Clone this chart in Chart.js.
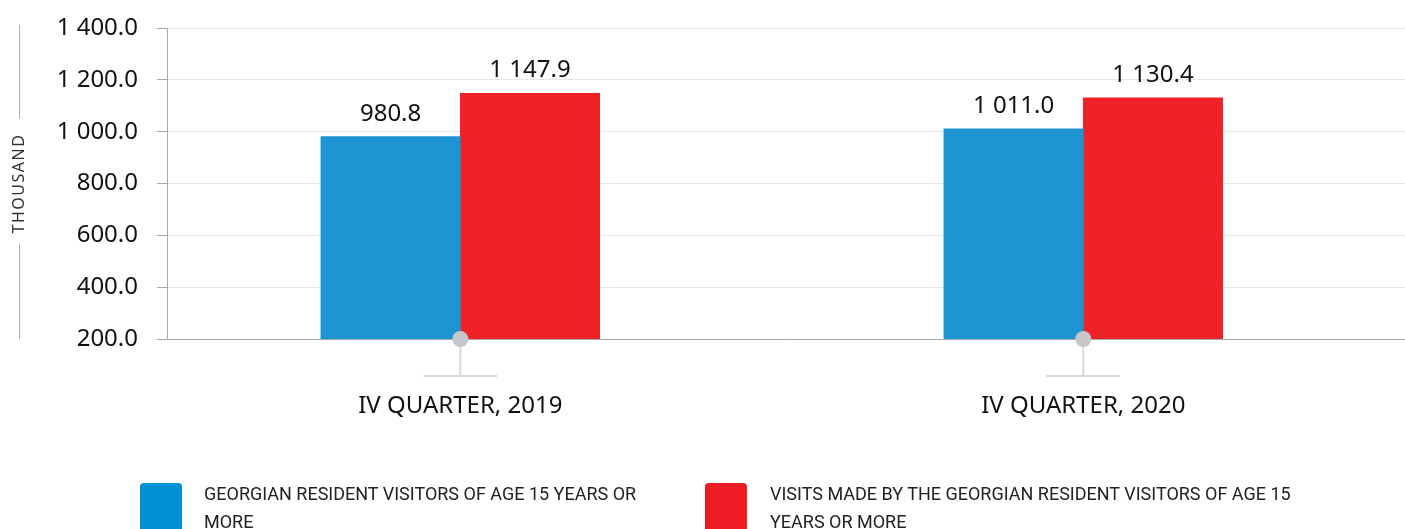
<!DOCTYPE html>
<html>
<head>
<meta charset="utf-8">
<script src="https://cdn.jsdelivr.net/npm/chart.js@4/dist/chart.umd.min.js"></script>
<style>
    body { margin: 0; background: #fff; }
    #wrap { position: relative; width: 1405px; height: 529px; overflow: hidden; }
    .legend-item { position: absolute; top: 483px; }
    .legend-box { position: absolute; top: 0; width: 42px; height: 60px; border-radius: 4px; }
    .legend-text { position: absolute; top: -3px; font-family: "Roboto", sans-serif; font-size: 18px; line-height: 28px; color: #222; white-space: nowrap; }
</style>
</head>
<body>
<div id="wrap">
    <canvas id="visitorsChart" width="1405" height="529"></canvas>
    <div class="legend-item" style="left:140px;">
        <div class="legend-box" style="left:0; background:#0090d4;"></div>
        <div class="legend-text" style="left:64px;">GEORGIAN RESIDENT VISITORS OF AGE 15 YEARS OR<br>MORE</div>
    </div>
    <div class="legend-item" style="left:705px;">
        <div class="legend-box" style="left:0; background:#ee1c25;"></div>
        <div class="legend-text" style="left:65px;">VISITS MADE BY THE GEORGIAN RESIDENT VISITORS OF AGE 15<br>YEARS OR MORE</div>
    </div>
</div>
<script>
// Chart data
const categories = ['IV QUARTER, 2019', 'IV QUARTER, 2020'];
const residentVisitors = [980.8, 1011.0];
const residentVisits = [1147.9, 1130.4];
const yTicks = [200, 400, 600, 800, 1000, 1200, 1400];

const blue = '#1e94d2';
const red = '#ee2227';

// Format number with space as thousands separator, one decimal
function formatNumber(num) {
    const parts = num.toFixed(1).split('.');
    return parts[0].replace(/\B(?=(\d{3})+(?!\d))/g, ' ') + '.' + parts[1];
}

// Value labels above bars
const valueLabels = {
    id: 'valueLabels',
    afterDatasetsDraw(chart) {
        const ctx = chart.ctx;
        ctx.save();
        ctx.font = '24px "Noto Sans"';
        ctx.fillStyle = '#111';
        ctx.textAlign = 'center';
        ctx.textBaseline = 'alphabetic';
        chart.data.datasets.forEach((ds, di) => {
            chart.getDatasetMeta(di).data.forEach((bar, i) => {
                ctx.fillText(formatNumber(ds.data[i].y), bar.x, bar.y - 16);
            });
        });
        ctx.restore();
    }
};

// Category markers and the vertical axis title
const decorations = {
    id: 'decorations',
    afterDraw(chart) {
        const ctx = chart.ctx;
        const x = chart.scales.x;
        const bottom = chart.chartArea.bottom;
        ctx.save();
        categories.forEach((c, i) => {
            const px = x.getPixelForValue(i);
            ctx.strokeStyle = '#d9d9d9';
            ctx.lineWidth = 2;
            ctx.beginPath();
            ctx.moveTo(px, bottom);
            ctx.lineTo(px, bottom + 37);
            ctx.moveTo(px - 37, bottom + 37);
            ctx.lineTo(px + 37, bottom + 37);
            ctx.stroke();
            ctx.fillStyle = '#c6c6cb';
            ctx.beginPath();
            ctx.arc(px, bottom, 8, 0, Math.PI * 2);
            ctx.fill();
        });

        // axis title
        const cy = (chart.chartArea.top + bottom) / 2;
        ctx.strokeStyle = '#b0b0b0';
        ctx.lineWidth = 1;
        ctx.beginPath();
        ctx.moveTo(19.5, 25);
        ctx.lineTo(19.5, cy - 65);
        ctx.moveTo(19.5, cy + 60);
        ctx.lineTo(19.5, bottom);
        ctx.stroke();
        ctx.translate(19, cy);
        ctx.rotate(-Math.PI / 2);
        ctx.font = '16px "Noto Sans"';
        ctx.letterSpacing = '1.5px';
        ctx.fillStyle = '#333';
        ctx.textAlign = 'center';
        ctx.textBaseline = 'middle';
        ctx.fillText('THOUSAND', 0, 0);
        ctx.restore();
    }
};

const ctx = document.getElementById('visitorsChart');

new Chart(ctx, {
    type: 'bar',
    data: {
        datasets: [{
            label: 'Georgian resident visitors of age 15 years or more',
            data: residentVisitors.map((v, i) => ({ x: i, y: v })),
            backgroundColor: blue
        }, {
            label: 'Visits made by the Georgian resident visitors of age 15 years or more',
            data: residentVisits.map((v, i) => ({ x: i, y: v })),
            backgroundColor: red
        }]
    },
    options: {
        responsive: false,
        animation: false,
        barThickness: 139.4,
        layout: {
            padding: { top: 28, right: 0, bottom: 0, left: 0 }
        },
        plugins: {
            legend: { display: false },
            tooltip: { enabled: false }
        },
        scales: {
            x: {
                type: 'linear',
                offset: false,
                min: -0.4708,
                max: 1.5164,
                afterBuildTicks: scale => {
                    scale.ticks = categories.map((c, i) => ({ value: i }));
                },
                afterFit: scale => { scale.height = 190; },
                grid: { display: false, drawTicks: false, offset: false },
                border: { display: true, color: '#a8a8a8', width: 1 },
                ticks: {
                    padding: 53,
                    color: '#111',
                    font: { family: 'Noto Sans', size: 24 },
                    callback: value => categories[value]
                }
            },
            y: {
                min: 200,
                max: 1400,
                afterBuildTicks: scale => {
                    scale.ticks = yTicks.map(v => ({ value: v }));
                },
                afterFit: scale => {
                    scale.width = 167;
                    scale.paddingTop = 0;
                    scale.paddingBottom = 0;
                },
                grid: { color: '#e6e6e6', tickColor: '#a8a8a8', tickLength: 10 },
                border: { color: '#a8a8a8' },
                ticks: {
                    padding: 19,
                    color: '#111',
                    font: { family: 'Noto Sans', size: 24 },
                    callback: value => formatNumber(value)
                }
            }
        }
    },
    plugins: [valueLabels, decorations]
});
</script>
</body>
</html>
